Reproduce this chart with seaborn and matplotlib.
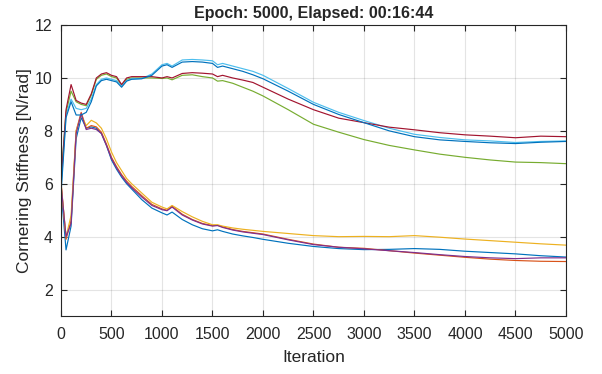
import numpy as np
import pandas as pd
import matplotlib
matplotlib.use("Agg")
import matplotlib.pyplot as plt
import seaborn as sns

# Dados
iteracao = [0, 50, 100, 150, 200, 250, 300, 350, 400, 450, 500, 550, 600, 650, 700,
            800, 900, 1000, 1050, 1100, 1200, 1300, 1400, 1500, 1550, 1600, 1700, 1800,
            1900, 2000, 2250, 2500, 2750, 3000, 3250, 3500, 3750, 4000, 4250, 4500,
            4750, 5000]

azul_baixo = [5.8, 3.5, 4.4, 7.7, 8.5, 8.1, 8.15, 8.1, 7.9, 7.45, 6.9, 6.55, 6.25, 6.0, 5.8,
              5.4, 5.08, 4.9, 4.82, 4.93, 4.65, 4.45, 4.3, 4.22, 4.26, 4.2, 4.1, 4.03,
              3.97, 3.9, 3.75, 3.63, 3.55, 3.51, 3.52, 3.55, 3.52, 3.45, 3.4, 3.35,
              3.28, 3.23]
laranja = [6.1, 3.9, 4.6, 8.0, 8.7, 8.1, 8.2, 8.15, 7.95, 7.5, 7.0, 6.65, 6.35, 6.1, 5.9,
           5.55, 5.22, 5.05, 5.0, 5.15, 4.85, 4.65, 4.5, 4.42, 4.43, 4.37, 4.27, 4.2,
           4.15, 4.1, 3.9, 3.72, 3.6, 3.56, 3.47, 3.38, 3.3, 3.22, 3.15, 3.1,
           3.07, 3.06]
amarelo = [6.0, 4.0, 4.8, 8.0, 8.6, 8.2, 8.4, 8.3, 8.1, 7.7, 7.2, 6.8, 6.5, 6.2, 6.0,
           5.65, 5.3, 5.12, 5.05, 5.18, 4.95, 4.75, 4.58, 4.45, 4.45, 4.4, 4.33, 4.28,
           4.24, 4.2, 4.12, 4.04, 4.0, 4.01, 4.0, 4.04, 3.98, 3.91, 3.85, 3.79,
           3.73, 3.68]
roxo = [6.0, 4.0, 4.5, 7.9, 8.65, 8.05, 8.1, 8.05, 7.9, 7.45, 6.95, 6.6, 6.3, 6.05, 5.85,
        5.5, 5.18, 5.02, 4.98, 5.12, 4.82, 4.63, 4.48, 4.4, 4.42, 4.35, 4.25, 4.18,
        4.13, 4.08, 3.88, 3.7, 3.6, 3.54, 3.47, 3.4, 3.32, 3.25, 3.2, 3.17,
        3.2, 3.2]
verde = [6.2, 8.7, 9.5, 9.1, 9.0, 8.95, 9.35, 9.95, 10.1, 10.15, 10.05, 10.0, 9.72, 9.95, 10.0,
         10.0, 10.0, 9.98, 10.0, 9.93, 10.1, 10.12, 10.05, 10.0, 9.88, 9.9, 9.8, 9.65,
         9.5, 9.32, 8.8, 8.25, 7.95, 7.67, 7.45, 7.28, 7.12, 7.0, 6.9, 6.82,
         6.8, 6.76]
azul_claro = [5.8, 8.6, 9.2, 8.85, 8.8, 8.85, 9.2, 9.75, 9.95, 10.0, 9.95, 9.9, 9.7, 9.9, 9.97,
              9.98, 10.15, 10.5, 10.55, 10.45, 10.68, 10.7, 10.68, 10.65, 10.5, 10.55, 10.45, 10.35,
              10.25, 10.1, 9.6, 9.08, 8.7, 8.39, 8.1, 7.87, 7.75, 7.66, 7.62, 7.56,
              7.6, 7.62]
vermelho = [6.0, 8.8, 9.75, 9.15, 9.05, 9.0, 9.4, 10.0, 10.15, 10.2, 10.1, 10.05, 9.75, 10.0, 10.05,
            10.05, 10.05, 10.0, 10.05, 10.0, 10.17, 10.2, 10.18, 10.15, 10.05, 10.1, 10.0, 9.92,
            9.83, 9.65, 9.2, 8.8, 8.48, 8.31, 8.14, 8.04, 7.93, 7.85, 7.8, 7.74,
            7.8, 7.78]
azul_alto = [5.6, 8.5, 9.1, 8.6, 8.6, 8.7, 9.1, 9.7, 9.9, 9.95, 9.9, 9.85, 9.65, 9.88, 9.95,
             9.97, 10.1, 10.45, 10.5, 10.4, 10.6, 10.62, 10.6, 10.55, 10.4, 10.45, 10.35, 10.25,
             10.12, 9.97, 9.5, 9.0, 8.62, 8.31, 8.0, 7.78, 7.66, 7.6, 7.55, 7.52,
             7.57, 7.6]

series = [azul_baixo, laranja, amarelo, roxo, verde, azul_claro, vermelho, azul_alto]
cores = ['#0072BD', '#D95319', '#EDB120', '#7E2F8E', '#77AC30', '#4DBEEE', '#A2142F', '#0072BD']

sns.set_style("ticks")
plt.rcParams['font.family'] = ['Liberation Sans', 'DejaVu Sans']

fig = plt.figure(figsize=(6.02, 3.74), dpi=100)
ax = fig.add_axes([0.1013, 0.155, 0.8389, 0.778])

for i, (vals, cor) in enumerate(zip(series, cores)):
    df = pd.DataFrame({'Iteration': iteracao, 'valor': vals})
    sns.lineplot(data=df, x='Iteration', y='valor', color=cor, linewidth=0.85, ax=ax)

ax.set_xlim(0, 5000)
ax.set_ylim(1, 12)
ax.set_xticks(np.arange(0, 5001, 500))
ax.set_yticks(np.arange(2, 13, 2))
ax.grid(True, color='#262626', alpha=0.12, linewidth=0.8)
ax.tick_params(direction='in', top=True, right=True, labelsize=11.5, colors='#262626',
               length=4, width=0.8, pad=8)
ax.tick_params(axis='y', pad=6)
for s in ax.spines.values():
    s.set_color('#262626')
    s.set_linewidth(0.8)
ax.set_xlabel('Iteration', fontsize=12.5, color='#262626', labelpad=6)
ax.set_ylabel('Cornering Stiffness [N/rad]', fontsize=12.5, color='#262626', labelpad=2)
ax.set_title('Epoch: 5000, Elapsed: 00:16:44', fontsize=11.5, fontweight='bold', pad=5)

plt.savefig('out.png', dpi=100)
